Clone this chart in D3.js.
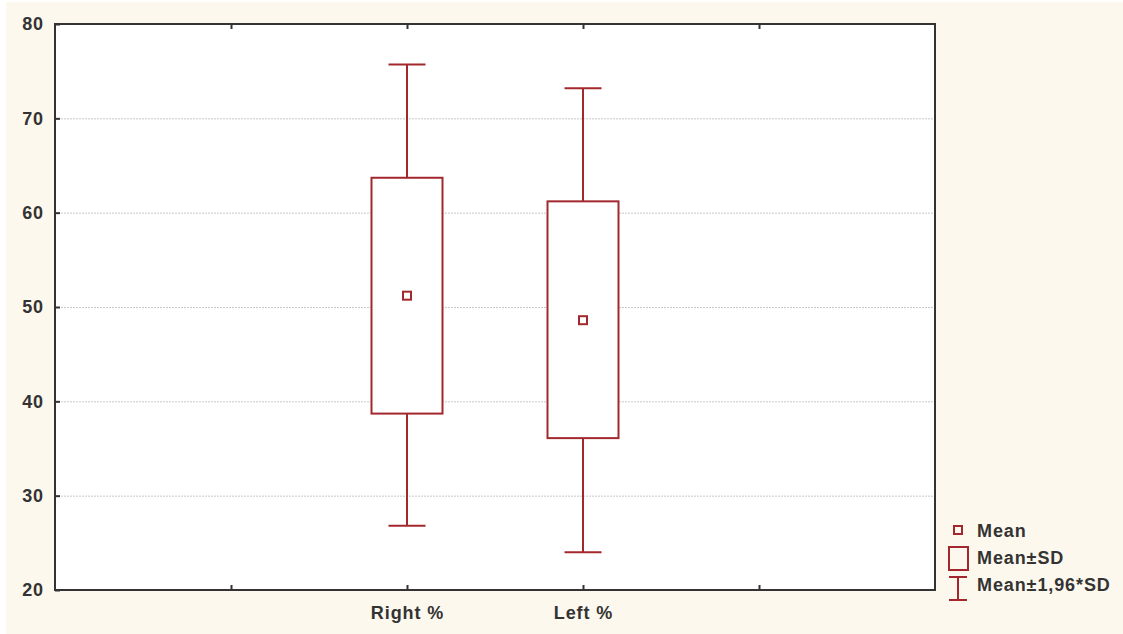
<!DOCTYPE html>
<html lang="en">
<head>
<meta charset="UTF-8">
<title>Mean / SD box plot</title>
<script src="https://d3js.org/d3.v7.min.js"></script>
<style>
  body { margin:0; background:#fff; }
  svg { display:block; }
</style>
</head>
<body>
<script>
  // data
  var categories = ["", "Right %", "Left %", " "];
  var groups = ["Right %", "Left %"];
  var means = [51.2, 48.6];
  var sdLow = [38.7, 36.1];
  var sdHigh = [63.7, 61.2];
  var ciLow = [26.8, 24.0];
  var ciHigh = [75.7, 73.2];
  var yTicks = [20, 30, 40, 50, 60, 70, 80];
  var legendLabels = ["Mean", "Mean\u00b1SD", "Mean\u00b11,96*SD"];

  var width = 1123, height = 634;
  var margin = {top:24, right:188, bottom:44, left:55};
  var red = "#a3282e";
  var ink = "#333";

  var svg = d3.select("body").append("svg").attr("width", width).attr("height", height);
  svg.append("rect").attr("x", 6).attr("y", 2).attr("width", width - 6).attr("height", height - 2).attr("fill", "#fdf8ed");

  var x = d3.scalePoint().domain(categories).range([margin.left, width - margin.right]).padding(1);
  var y = d3.scaleLinear().domain([20, 80]).range([height - margin.bottom, margin.top]);

  // plot area
  svg.append("rect")
    .attr("x", margin.left).attr("y", margin.top)
    .attr("width", width - margin.right - margin.left)
    .attr("height", height - margin.bottom - margin.top)
    .attr("fill", "#fff");

  // dotted grid
  svg.append("g").selectAll("line")
    .data(yTicks.slice(1, -1))
    .enter().append("line")
    .attr("x1", margin.left).attr("x2", width - margin.right)
    .attr("y1", function(d){ return y(d) + 0.5; }).attr("y2", function(d){ return y(d) + 0.5; })
    .attr("stroke", "#c8c8c8").attr("stroke-width", 1).attr("stroke-dasharray", "2,1");

  var font = "'Liberation Sans', Arial, sans-serif";
  function styleText(sel) {
    sel.attr("font-family", font).attr("font-size", 18).attr("font-weight", "bold")
      .attr("letter-spacing", 0.9).attr("fill", ink);
  }

  // y axis labels + ticks
  var yAxis = d3.axisLeft(y).tickValues(yTicks).tickSize(-5).tickPadding(11);
  var gy = svg.append("g").attr("transform", "translate(" + margin.left + ",0)").call(yAxis);
  gy.select(".domain").remove();
  gy.selectAll("line").attr("stroke", ink).attr("stroke-width", 2);
  styleText(gy.selectAll("text"));

  // x axis
  var xAxis = d3.axisBottom(x).tickSize(-5).tickPadding(16);
  var gx = svg.append("g").attr("transform", "translate(0," + (height - margin.bottom) + ")").call(xAxis);
  gx.select(".domain").remove();
  gx.selectAll("line").attr("stroke", ink).attr("stroke-width", 2);
  styleText(gx.selectAll("text"));

  // top ticks
  var gt = svg.append("g").attr("transform", "translate(0," + margin.top + ")").call(d3.axisTop(x).tickSize(-5).tickFormat(""));
  gt.select(".domain").remove();
  gt.selectAll("line").attr("stroke", ink).attr("stroke-width", 2);

  // frame
  svg.append("rect")
    .attr("x", margin.left).attr("y", margin.top)
    .attr("width", width - margin.right - margin.left)
    .attr("height", height - margin.bottom - margin.top)
    .attr("fill", "none").attr("stroke", ink).attr("stroke-width", 2);

  var boxW = 71, capW = 37, markS = 8;
  var g = svg.append("g").selectAll("g").data(groups).enter().append("g");

  g.append("line")
    .attr("x1", function(d){ return x(d); }).attr("x2", function(d){ return x(d); })
    .attr("y1", function(d, i){ return y(ciHigh[i]); }).attr("y2", function(d, i){ return y(ciLow[i]); })
    .attr("stroke", red).attr("stroke-width", 2);
  g.selectAll(".cap").data(function(d, i){ return [[d, ciHigh[i]], [d, ciLow[i]]]; })
    .enter().append("line")
    .attr("x1", function(d){ return x(d[0]) - capW / 2; }).attr("x2", function(d){ return x(d[0]) + capW / 2; })
    .attr("y1", function(d){ return y(d[1]); }).attr("y2", function(d){ return y(d[1]); })
    .attr("stroke", red).attr("stroke-width", 2);
  g.append("rect")
    .attr("x", function(d){ return x(d) - boxW / 2; })
    .attr("y", function(d, i){ return y(sdHigh[i]); })
    .attr("width", boxW)
    .attr("height", function(d, i){ return y(sdLow[i]) - y(sdHigh[i]); })
    .attr("fill", "#fff").attr("stroke", red).attr("stroke-width", 2);
  g.append("rect")
    .attr("x", function(d){ return x(d) - markS / 2; })
    .attr("y", function(d, i){ return y(means[i]) - markS / 2; })
    .attr("width", markS).attr("height", markS)
    .attr("fill", "#fff").attr("stroke", red).attr("stroke-width", 2);

  // legend
  var lg = svg.append("g");
  var lx = 958;
  lg.append("rect").attr("x", lx - 4).attr("y", 526).attr("width", 8).attr("height", 8)
    .attr("fill", "none").attr("stroke", red).attr("stroke-width", 2);
  lg.append("rect").attr("x", lx - 9).attr("y", 547).attr("width", 19).attr("height", 23)
    .attr("fill", "none").attr("stroke", red).attr("stroke-width", 2);
  lg.append("line").attr("x1", lx).attr("x2", lx).attr("y1", 577).attr("y2", 600).attr("stroke", red).attr("stroke-width", 2);
  lg.append("line").attr("x1", lx - 9).attr("x2", lx + 9).attr("y1", 577).attr("y2", 577).attr("stroke", red).attr("stroke-width", 2);
  lg.append("line").attr("x1", lx - 9).attr("x2", lx + 9).attr("y1", 600).attr("y2", 600).attr("stroke", red).attr("stroke-width", 2);
  styleText(lg.selectAll("text").data(legendLabels).enter().append("text")
    .attr("x", 977).attr("y", function(d, i){ return 537 + i * 27; })
    .text(function(d){ return d; }));
</script>
</body>
</html>
